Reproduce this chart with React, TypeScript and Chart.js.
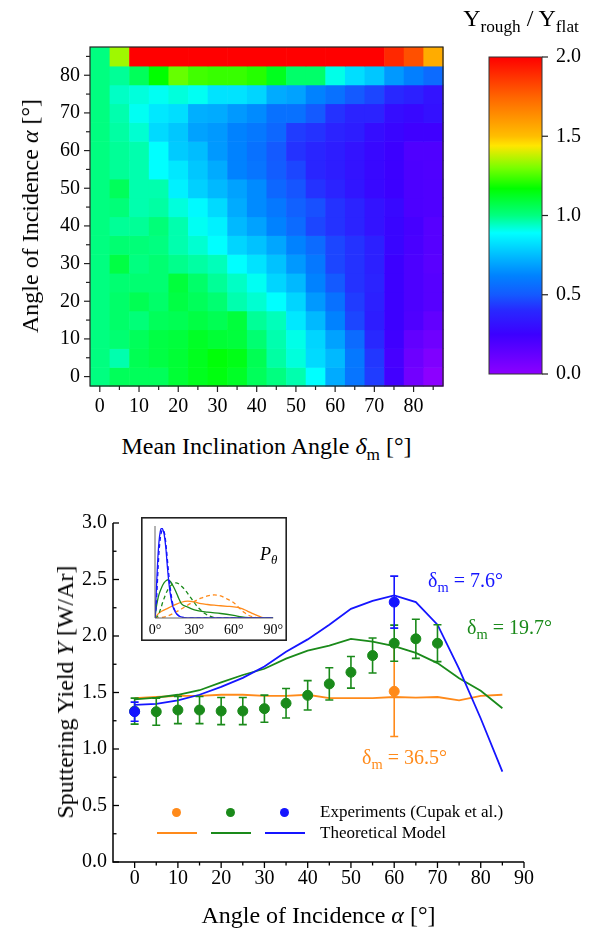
import React, { useEffect, useRef } from "react";
import { Chart, registerables } from "chart.js";

Chart.register(...registerables);

const SERIF = "'Liberation Serif', 'Times New Roman', serif";
Chart.defaults.font.family = SERIF;
Chart.defaults.color = "#000";

const ORANGE = "#ff8a1a";
const GREEN = "#1a8a1a";
const BLUE = "#1515ff";

// ---------------- Heatmap: Y_rough / Y_flat ----------------
const inclinationAngles = [0, 5, 10, 15, 20, 25, 30, 35, 40, 45, 50, 55, 60, 65, 70, 75, 80, 85];
const incidenceAngles = [0, 5, 10, 15, 20, 25, 30, 35, 40, 45, 50, 55, 60, 65, 70, 75, 80, 85];
// one row per incidence angle (alpha = 0 ... 85), one column per mean inclination angle
const yieldRatio = [
  [1.0, 1.05, 1.05, 1.05, 1.1, 1.13, 1.15, 1.12, 1.05, 1.0, 0.96, 0.89, 0.71, 0.58, 0.44, 0.23, 0.08, 0.0],
  [1.0, 0.96, 1.06, 1.08, 1.1, 1.13, 1.16, 1.14, 1.06, 0.97, 0.92, 0.81, 0.74, 0.59, 0.43, 0.22, 0.1, 0.04],
  [1.0, 1.02, 1.05, 1.08, 1.09, 1.12, 1.1, 1.09, 1.02, 0.96, 0.91, 0.8, 0.69, 0.55, 0.4, 0.24, 0.13, 0.09],
  [1.0, 1.03, 1.01, 1.05, 1.06, 1.08, 1.06, 1.09, 0.98, 0.95, 0.84, 0.74, 0.62, 0.46, 0.36, 0.25, 0.19, 0.13],
  [1.0, 1.03, 1.06, 1.03, 1.08, 1.05, 1.02, 0.96, 0.93, 0.89, 0.8, 0.67, 0.57, 0.44, 0.37, 0.25, 0.2, 0.17],
  [1.0, 1.02, 1.02, 1.02, 1.09, 1.03, 0.98, 0.94, 0.9, 0.8, 0.74, 0.62, 0.5, 0.42, 0.38, 0.25, 0.2, 0.17],
  [1.0, 1.08, 1.0, 1.02, 0.99, 0.97, 0.95, 0.89, 0.83, 0.76, 0.67, 0.59, 0.46, 0.42, 0.37, 0.25, 0.2, 0.16],
  [1.0, 1.02, 1.01, 1.0, 0.96, 0.93, 0.89, 0.8, 0.76, 0.7, 0.62, 0.55, 0.46, 0.42, 0.37, 0.27, 0.21, 0.17],
  [1.0, 0.98, 0.98, 1.01, 0.96, 0.9, 0.86, 0.74, 0.69, 0.62, 0.55, 0.46, 0.42, 0.38, 0.32, 0.27, 0.22, 0.17],
  [1.0, 1.01, 0.96, 0.97, 0.92, 0.88, 0.81, 0.71, 0.64, 0.59, 0.52, 0.48, 0.42, 0.38, 0.32, 0.28, 0.2, 0.19],
  [1.0, 1.05, 0.96, 0.96, 0.86, 0.79, 0.74, 0.69, 0.64, 0.54, 0.49, 0.42, 0.38, 0.33, 0.28, 0.25, 0.2, 0.19],
  [1.0, 0.98, 0.96, 0.89, 0.84, 0.77, 0.71, 0.62, 0.58, 0.51, 0.46, 0.39, 0.36, 0.32, 0.28, 0.25, 0.2, 0.19],
  [1.0, 0.98, 0.96, 0.89, 0.78, 0.75, 0.67, 0.62, 0.57, 0.5, 0.42, 0.39, 0.36, 0.32, 0.28, 0.25, 0.19, 0.19],
  [1.0, 0.97, 0.93, 0.81, 0.77, 0.69, 0.67, 0.62, 0.59, 0.54, 0.44, 0.42, 0.38, 0.36, 0.3, 0.27, 0.24, 0.24],
  [1.0, 0.96, 0.9, 0.84, 0.82, 0.72, 0.71, 0.67, 0.64, 0.57, 0.57, 0.5, 0.42, 0.38, 0.38, 0.3, 0.28, 0.31],
  [1.0, 0.94, 0.92, 0.9, 0.92, 0.9, 0.83, 0.83, 0.8, 0.71, 0.69, 0.62, 0.57, 0.5, 0.46, 0.4, 0.37, 0.32],
  [1.0, 0.98, 1.05, 1.17, 1.28, 1.24, 1.23, 1.23, 1.21, 1.13, 1.03, 1.03, 0.91, 0.82, 0.77, 0.67, 0.61, 0.55],
  [1.0, 1.34, 2.0, 2.0, 2.0, 2.0, 2.0, 2.0, 2.0, 2.0, 2.0, 2.0, 2.0, 2.0, 2.0, 1.9, 1.8, 1.55],
];
const heatLabelTicks = [0, 10, 20, 30, 40, 50, 60, 70, 80];
const heatMinorTicks = [5, 15, 25, 35, 45, 55, 65, 75, 85];
const colorbarTicks = [0, 0.5, 1.0, 1.5, 2.0];

// rainbow palette (value -> rgb)
const PALETTE: [number, number[]][] = [
  [0.0, [140, 0, 255]],
  [0.25, [60, 0, 255]],
  [0.4, [40, 40, 255]],
  [0.5, [20, 90, 255]],
  [0.62, [0, 130, 255]],
  [0.73, [0, 180, 255]],
  [0.89, [0, 255, 255]],
  [1.0, [0, 255, 128]],
  [1.17, [0, 255, 0]],
  [1.3, [120, 255, 0]],
  [1.44, [255, 230, 0]],
  [1.5, [255, 190, 0]],
  [1.75, [255, 100, 0]],
  [2.0, [255, 0, 0]],
];
function paletteColor(v: number): string {
  const t = Math.max(PALETTE[0][0], Math.min(PALETTE[PALETTE.length - 1][0], v));
  for (let i = 1; i < PALETTE.length; i++) {
    if (t <= PALETTE[i][0]) {
      const [v0, c0] = PALETTE[i - 1];
      const [v1, c1] = PALETTE[i];
      const f = (t - v0) / (v1 - v0);
      const c = c0.map((a, k) => Math.round(a + (c1[k] - a) * f));
      return `rgb(${c[0]},${c[1]},${c[2]})`;
    }
  }
  return "rgb(255,0,0)";
}

// ---------------- Sputtering yield ----------------
const alphaModel = [0, 5, 10, 15, 20, 25, 30, 35, 40, 45, 50, 55, 60, 65, 70, 75, 80, 85];
const modelDelta76 = [1.39, 1.4, 1.43, 1.48, 1.55, 1.63, 1.73, 1.86, 1.97, 2.1, 2.24, 2.31, 2.36, 2.3, 2.1, 1.71, 1.27, 0.8];
const modelDelta197 = [1.44, 1.455, 1.48, 1.52, 1.59, 1.655, 1.71, 1.8, 1.87, 1.915, 1.975, 1.95, 1.91, 1.85, 1.76, 1.626, 1.516, 1.36];
const modelDelta365 = [1.45, 1.46, 1.47, 1.47, 1.48, 1.48, 1.47, 1.47, 1.48, 1.45, 1.45, 1.45, 1.46, 1.455, 1.46, 1.43, 1.47, 1.48];

const expAlpha197 = [0, 5, 10, 15, 20, 25, 30, 35, 40, 45, 50, 55, 60, 65, 70];
const expYield197 = [1.335, 1.33, 1.345, 1.345, 1.336, 1.336, 1.357, 1.405, 1.475, 1.576, 1.679, 1.827, 1.936, 1.975, 1.936];
const expErr197 = [0.115, 0.12, 0.12, 0.12, 0.12, 0.12, 0.12, 0.13, 0.13, 0.143, 0.14, 0.155, 0.16, 0.173, 0.163];
const expAlpha76 = [0, 60];
const expYield76 = [1.33, 2.3];
const expErr76 = [0.085, 0.23];
const expAlpha365 = [60];
const expYield365 = [1.51];
const expErr365 = [0.4];

const yieldTicks = [0, 0.5, 1.0, 1.5, 2.0, 2.5, 3.0];
const yieldMinorTicks = [0.25, 0.75, 1.25, 1.75, 2.25, 2.75];
const alphaTicks = [0, 10, 20, 30, 40, 50, 60, 70, 80, 90];
const alphaMinorTicks = [5, 15, 25, 35, 45, 55, 65, 75, 85];

// ---------------- Inset: P_theta distributions ----------------
const insetTicks = [0, 30, 60, 90];
const pBlueSolidAngle = [0, 1, 2, 3, 4, 5.25, 6.5, 7, 8.25, 9.5, 10.75, 12, 13.25, 15.75, 18.25, 22, 25, 90];
const pBlueSolid = [0, 0.3, 0.62, 0.84, 0.96, 1.0, 0.96, 0.93, 0.78, 0.556, 0.368, 0.237, 0.143, 0.06, 0.023, 0.004, 0, 0];
const pBlueDashAngle = [0, 1, 2, 3, 4, 5, 6.25, 7.5, 8.75, 10, 11.25, 12.5, 14, 16, 18.5, 22, 25, 90];
const pBlueDash = [0, 0.15, 0.45, 0.72, 0.88, 0.96, 0.98, 0.92, 0.76, 0.56, 0.38, 0.24, 0.13, 0.06, 0.02, 0.004, 0, 0];
const pGreenSolidAngle = [0, 1, 2, 3, 4.5, 6, 8, 10, 12, 14, 16, 18, 20, 25, 30, 40, 50, 60, 66, 72, 76, 90];
const pGreenSolid = [0, 0.12, 0.2, 0.26, 0.32, 0.37, 0.41, 0.425, 0.4, 0.35, 0.29, 0.22, 0.16, 0.12, 0.09, 0.065, 0.05, 0.028, 0.012, 0.003, 0, 0];
const pGreenDashAngle = [0, 2, 4, 6, 8, 10, 12, 14, 16, 18, 20, 23, 26, 29, 32, 35, 38, 41, 44, 48, 52, 90];
const pGreenDash = [0, 0.02, 0.09, 0.18, 0.26, 0.32, 0.36, 0.385, 0.39, 0.38, 0.355, 0.31, 0.25, 0.19, 0.13, 0.085, 0.05, 0.025, 0.01, 0.002, 0, 0];
const pOrangeSolidAngle = [0, 2, 5, 10, 15, 20, 25, 30, 35, 40, 45, 50, 55, 60, 65, 70, 75, 80, 84, 90];
const pOrangeSolid = [0, 0.04, 0.075, 0.11, 0.145, 0.175, 0.188, 0.178, 0.16, 0.15, 0.142, 0.136, 0.13, 0.124, 0.11, 0.08, 0.045, 0.015, 0, 0];
const pOrangeDashAngle = [0, 5, 10, 15, 20, 25, 30, 35, 40, 45, 50, 55, 60, 65, 68, 72, 75, 78];
const pOrangeDash = [0, 0.005, 0.025, 0.06, 0.1, 0.145, 0.185, 0.22, 0.245, 0.256, 0.245, 0.21, 0.17, 0.1, 0.06, 0.025, 0.01, 0];

const zip = (xs: number[], ys: number[]) => xs.map((x, i) => ({ x, y: ys[i] }));

const baseOptions = {
  animation: false as const,
  responsive: false,
  maintainAspectRatio: false,
  events: [] as any[],
  plugins: { legend: { display: false }, tooltip: { enabled: false } },
};

function drawTicksX(ctx: CanvasRenderingContext2D, scale: any, y0: number, values: number[], len: number) {
  values.forEach((v) => {
    const px = scale.getPixelForValue(v);
    ctx.beginPath();
    ctx.moveTo(px, y0);
    ctx.lineTo(px, y0 + len);
    ctx.stroke();
  });
}
function drawTicksY(ctx: CanvasRenderingContext2D, scale: any, x0: number, values: number[], len: number) {
  values.forEach((v) => {
    const py = scale.getPixelForValue(v);
    ctx.beginPath();
    ctx.moveTo(x0, py);
    ctx.lineTo(x0 + len, py);
    ctx.stroke();
  });
}

function heatmapConfig(): any {
  const cells: any[] = [];
  incidenceAngles.forEach((a, r) =>
    inclinationAngles.forEach((d, c) => cells.push({ x: d, y: a, v: yieldRatio[r][c] }))
  );
  const hx = (inclinationAngles[1] - inclinationAngles[0]) / 2;
  const hy = (incidenceAngles[1] - incidenceAngles[0]) / 2;
  const cellPlugin = {
    id: "heatCells",
    beforeDatasetsDraw(chart: any) {
      const { ctx, scales } = chart;
      const xs = scales.x;
      const ys = scales.y;
      ctx.save();
      chart.data.datasets[0].data.forEach((p: any) => {
        const x0 = xs.getPixelForValue(p.x - hx);
        const x1 = xs.getPixelForValue(p.x + hx);
        const y0 = ys.getPixelForValue(p.y + hy);
        const y1 = ys.getPixelForValue(p.y - hy);
        ctx.fillStyle = paletteColor(p.v);
        ctx.fillRect(x0, y0, x1 - x0 + 0.6, y1 - y0 + 0.6);
      });
      ctx.restore();
    },
    afterDatasetsDraw(chart: any) {
      const { ctx, chartArea: a, scales } = chart;
      ctx.save();
      ctx.strokeStyle = "#222";
      ctx.lineWidth = 1.2;
      ctx.strokeRect(a.left, a.top, a.right - a.left, a.bottom - a.top);
      drawTicksX(ctx, scales.x, a.bottom, heatLabelTicks, 6);
      drawTicksX(ctx, scales.x, a.bottom, heatMinorTicks, 4);
      drawTicksY(ctx, scales.y, a.left, heatLabelTicks, -6);
      drawTicksY(ctx, scales.y, a.left, heatMinorTicks, -4);
      ctx.restore();
    },
  };
  const axisCommon = (labels: number[]) => ({
    type: "linear",
    afterBuildTicks: (s: any) => {
      s.ticks = labels.map((v) => ({ value: v }));
    },
    grid: { display: false, drawTicks: false },
    border: { display: false },
  });
  return {
    type: "scatter",
    data: { datasets: [{ data: cells, pointRadius: 0, pointHoverRadius: 0 }] },
    options: {
      ...baseOptions,
      layout: { padding: { left: 0, top: 47, right: 27, bottom: 9 } },
      scales: {
        x: {
          ...axisCommon(heatLabelTicks),
          min: inclinationAngles[0] - hx,
          max: inclinationAngles[inclinationAngles.length - 1] + hx,
          afterFit: (s: any) => {
            s.height = 35;
          },
          ticks: { padding: 9, color: "#000", font: { size: 20, family: SERIF }, callback: (v: any) => String(v) },
        },
        y: {
          ...axisCommon(heatLabelTicks),
          min: incidenceAngles[0] - hy,
          max: incidenceAngles[incidenceAngles.length - 1] + hy,
          afterFit: (s: any) => {
            s.width = 90;
          },
          ticks: { padding: 10, color: "#000", font: { size: 20, family: SERIF }, callback: (v: any) => String(v) },
        },
      },
    },
    plugins: [cellPlugin],
  };
}

function colorbarConfig(): any {
  const barPlugin = {
    id: "colorBar",
    beforeDatasetsDraw(chart: any) {
      const { ctx, chartArea: a, scales } = chart;
      const ys = scales.y;
      const lo = PALETTE[0][0];
      const hi = PALETTE[PALETTE.length - 1][0];
      const g = ctx.createLinearGradient(0, ys.getPixelForValue(lo), 0, ys.getPixelForValue(hi));
      PALETTE.forEach(([v]) => g.addColorStop((v - lo) / (hi - lo), paletteColor(v)));
      ctx.save();
      ctx.fillStyle = g;
      ctx.fillRect(a.left, a.top, a.right - a.left, a.bottom - a.top);
      ctx.strokeStyle = "#333";
      ctx.lineWidth = 1;
      ctx.strokeRect(a.left, a.top, a.right - a.left, a.bottom - a.top);
      ctx.lineWidth = 1.2;
      ctx.strokeStyle = "#222";
      drawTicksY(ctx, ys, a.right, colorbarTicks, 6);
      ctx.restore();
    },
  };
  return {
    type: "scatter",
    data: { datasets: [{ data: [], pointRadius: 0 }] },
    options: {
      ...baseOptions,
      layout: { padding: { left: 19, top: 57, right: 0, bottom: 20 } },
      scales: {
        x: { type: "linear", display: false, min: 0, max: 1 },
        y: {
          type: "linear",
          position: "right",
          min: 0,
          max: 2,
          afterBuildTicks: (s: any) => {
            s.ticks = colorbarTicks.map((v) => ({ value: v }));
          },
          afterFit: (s: any) => {
            s.width = 53;
          },
          grid: { display: false, drawTicks: false },
          border: { display: false },
          ticks: { padding: 14, color: "#000", font: { size: 20, family: SERIF }, callback: (v: any) => Number(v).toFixed(1) },
        },
      },
    },
    plugins: [barPlugin],
  };
}

function yieldConfig(): any {
  const errorBars = {
    id: "errorBars",
    beforeDatasetDraw(chart: any, args: any) {
      const ds = chart.data.datasets[args.index];
      if (!ds.errors) return;
      const { ctx, scales } = chart;
      ctx.save();
      ctx.strokeStyle = ds.borderColor;
      ctx.lineWidth = 1.6;
      ds.data.forEach((p: any, i: number) => {
        const e = ds.errors[i];
        const px = scales.x.getPixelForValue(p.x);
        const top = scales.y.getPixelForValue(p.y + e);
        const bot = scales.y.getPixelForValue(p.y - e);
        ctx.beginPath();
        ctx.moveTo(px, top);
        ctx.lineTo(px, bot);
        ctx.moveTo(px - 4, top);
        ctx.lineTo(px + 4, top);
        ctx.moveTo(px - 4, bot);
        ctx.lineTo(px + 4, bot);
        ctx.stroke();
      });
      ctx.restore();
    },
  };
  const axes = {
    id: "axesDecor",
    afterDatasetsDraw(chart: any) {
      const { ctx, chartArea: a, scales } = chart;
      ctx.save();
      ctx.strokeStyle = "#000";
      ctx.lineWidth = 1.5;
      ctx.beginPath();
      ctx.moveTo(a.left, a.top);
      ctx.lineTo(a.left, a.bottom);
      ctx.lineTo(a.right, a.bottom);
      ctx.stroke();
      ctx.lineWidth = 1.3;
      drawTicksX(ctx, scales.x, a.bottom, alphaTicks, 6);
      drawTicksX(ctx, scales.x, a.bottom, alphaMinorTicks, 3.5);
      drawTicksY(ctx, scales.y, a.left, yieldTicks, 6);
      drawTicksY(ctx, scales.y, a.left, yieldMinorTicks, 3.5);
      ctx.restore();
    },
  };
  const pointDs = (xs: number[], ys: number[], errs: number[], color: string, order: number) => ({
    data: zip(xs, ys),
    errors: errs,
    showLine: false,
    borderColor: color,
    backgroundColor: color,
    pointBackgroundColor: color,
    pointBorderColor: color,
    pointBorderWidth: 1,
    pointRadius: 5,
    order,
  });
  const lineDs = (ys: number[], color: string, order: number) => ({
    data: zip(alphaModel, ys),
    showLine: true,
    borderColor: color,
    backgroundColor: color,
    borderWidth: 1.8,
    pointRadius: 0,
    tension: 0,
    order,
  });
  return {
    type: "scatter",
    data: {
      datasets: [
        pointDs(expAlpha76, expYield76, expErr76, BLUE, 0),
        pointDs(expAlpha197, expYield197, expErr197, GREEN, 1),
        pointDs(expAlpha365, expYield365, expErr365, ORANGE, 2),
        lineDs(modelDelta76, BLUE, 3),
        lineDs(modelDelta197, GREEN, 4),
        lineDs(modelDelta365, ORANGE, 5),
      ],
    },
    options: {
      ...baseOptions,
      layout: { padding: { left: 0, top: 53, right: 71, bottom: 30 } },
      scales: {
        x: {
          type: "linear",
          min: -5,
          max: 90,
          afterBuildTicks: (s: any) => {
            s.ticks = alphaTicks.map((v) => ({ value: v }));
          },
          afterFit: (s: any) => {
            s.height = 40;
          },
          grid: { display: false, drawTicks: false },
          border: { display: false },
          ticks: { padding: 5, color: "#000", font: { size: 20, family: SERIF }, callback: (v: any) => String(v) },
        },
        y: {
          type: "linear",
          min: 0,
          max: 3,
          afterBuildTicks: (s: any) => {
            s.ticks = yieldTicks.map((v) => ({ value: v }));
          },
          afterFit: (s: any) => {
            s.width = 113;
          },
          grid: { display: false, drawTicks: false },
          border: { display: false },
          ticks: { padding: 6, color: "#000", font: { size: 20, family: SERIF }, callback: (v: any) => Number(v).toFixed(1) },
        },
      },
    },
    plugins: [errorBars, axes],
  };
}

function insetConfig(): any {
  const frame = {
    id: "insetFrame",
    afterDatasetsDraw(chart: any) {
      const { ctx, chartArea: a, width, height } = chart;
      ctx.save();
      ctx.strokeStyle = "#666";
      ctx.lineWidth = 1;
      ctx.beginPath();
      ctx.moveTo(a.left, a.top - 2);
      ctx.lineTo(a.left, a.bottom);
      ctx.lineTo(a.right, a.bottom);
      ctx.stroke();
      ctx.strokeStyle = "#222";
      ctx.lineWidth = 1.6;
      ctx.strokeRect(0.8, 0.8, width - 1.6, height - 1.6);
      ctx.restore();
    },
  };
  const curve = (xs: number[], ys: number[], color: string, dashed: boolean, order: number) => ({
    data: zip(xs, ys),
    showLine: true,
    borderColor: color,
    borderWidth: 1.3,
    borderDash: dashed ? [4, 3] : [],
    pointRadius: 0,
    cubicInterpolationMode: "monotone",
    order,
  });
  return {
    type: "scatter",
    data: {
      datasets: [
        curve(pBlueSolidAngle, pBlueSolid, BLUE, false, 0),
        curve(pBlueDashAngle, pBlueDash, BLUE, true, 1),
        curve(pGreenSolidAngle, pGreenSolid, GREEN, false, 2),
        curve(pGreenDashAngle, pGreenDash, GREEN, true, 3),
        curve(pOrangeSolidAngle, pOrangeSolid, ORANGE, false, 4),
        curve(pOrangeDashAngle, pOrangeDash, ORANGE, true, 5),
      ],
    },
    options: {
      ...baseOptions,
      layout: { padding: { left: 0, top: 11, right: 12, bottom: 0 } },
      scales: {
        x: {
          type: "linear",
          min: 0,
          max: 90,
          afterBuildTicks: (s: any) => {
            s.ticks = insetTicks.map((v) => ({ value: v }));
          },
          afterFit: (s: any) => {
            s.height = 23;
          },
          grid: { display: false, drawTicks: false },
          border: { display: false },
          ticks: { padding: 4, color: "#000", font: { size: 14, family: SERIF }, callback: (v: any) => `${v}°` },
        },
        y: {
          type: "linear",
          min: 0,
          max: 1,
          afterFit: (s: any) => {
            s.width = 14;
          },
          grid: { display: false, drawTicks: false },
          border: { display: false },
          ticks: { display: false },
        },
      },
    },
    plugins: [frame],
  };
}

const Sub = ({ children, italic }: { children: any; italic?: boolean }) => (
  <span style={{ fontSize: "0.72em", position: "relative", top: "0.32em", fontStyle: italic ? "italic" : "normal" }}>
    {children}
  </span>
);

const abs = (style: any): any => ({ position: "absolute", whiteSpace: "nowrap", lineHeight: 1, ...style });

export default function App() {
  const heatRef = useRef<HTMLCanvasElement>(null);
  const barRef = useRef<HTMLCanvasElement>(null);
  const yieldRef = useRef<HTMLCanvasElement>(null);
  const insetRef = useRef<HTMLCanvasElement>(null);

  useEffect(() => {
    const charts = [
      new Chart(heatRef.current!, heatmapConfig()),
      new Chart(barRef.current!, colorbarConfig()),
      new Chart(yieldRef.current!, yieldConfig()),
      new Chart(insetRef.current!, insetConfig()),
    ];
    return () => charts.forEach((c) => c.destroy());
  }, []);

  const dot = (cx: number, color: string) => (
    <div style={{ position: "absolute", left: cx - 4.5, top: 812 - 4.5, width: 9, height: 9, borderRadius: "50%", background: color }} />
  );
  const seg = (x0: number, color: string) => (
    <div style={{ position: "absolute", left: x0, top: 832, width: 40, height: 2, background: color }} />
  );

  return (
    <div
      style={{
        position: "absolute",
        left: 0,
        top: 0,
        width: 595,
        height: 932,
        background: "#fff",
        fontFamily: SERIF,
        color: "#000",
        overflow: "hidden",
      }}
    >
      <canvas ref={heatRef} width={470} height={430} style={{ position: "absolute", left: 0, top: 0 }} />
      <canvas ref={barRef} width={125} height={400} style={{ position: "absolute", left: 470, top: 0 }} />
      <canvas ref={yieldRef} width={595} height={462} style={{ position: "absolute", left: 0, top: 470 }} />
      <canvas ref={insetRef} width={146} height={124} style={{ position: "absolute", left: 141, top: 517, background: "#fff" }} />

      {/* heatmap titles */}
      <div style={abs({ left: 521, top: 6, fontSize: 24, transform: "translateX(-50%)" })}>
        Y<Sub>rough</Sub> / Y<Sub>flat</Sub>
      </div>
      <div style={abs({ left: 266.5, top: 434, fontSize: 24, transform: "translateX(-50%)" })}>
        Mean Inclination Angle <i>δ</i>
        <Sub>m</Sub> [°]
      </div>
      <div style={abs({ left: 30, top: 216, fontSize: 24, transform: "translate(-50%,-50%) rotate(-90deg)" })}>
        Angle of Incidence <i>α</i> [°]
      </div>

      {/* yield chart titles */}
      <div style={abs({ left: 65, top: 692, fontSize: 24, transform: "translate(-50%,-50%) rotate(-90deg)" })}>
        Sputtering Yield <i>Y</i> [W/Ar]
      </div>
      <div style={abs({ left: 318.5, top: 915, fontSize: 24, transform: "translate(-50%,-50%)" })}>
        Angle of Incidence <i>α</i> [°]
      </div>

      {/* annotations */}
      <div style={abs({ left: 428, top: 570, fontSize: 20, color: BLUE })}>
        δ<Sub>m</Sub> = 7.6°
      </div>
      <div style={abs({ left: 467, top: 617, fontSize: 20, color: GREEN })}>
        δ<Sub>m</Sub> = 19.7°
      </div>
      <div style={abs({ left: 362, top: 747, fontSize: 20, color: ORANGE })}>
        δ<Sub>m</Sub> = 36.5°
      </div>

      {/* legend */}
      {dot(176, ORANGE)}
      {dot(230, GREEN)}
      {dot(284, BLUE)}
      {seg(157, ORANGE)}
      {seg(211, GREEN)}
      {seg(265, BLUE)}
      <div style={abs({ left: 320, top: 803, fontSize: 17 })}>Experiments (Cupak et al.)</div>
      <div style={abs({ left: 320, top: 824, fontSize: 17 })}>Theoretical Model</div>

      {/* inset label */}
      <div style={abs({ left: 260, top: 545, fontSize: 18, fontStyle: "italic" })}>
        P<Sub italic>θ</Sub>
      </div>
    </div>
  );
}
